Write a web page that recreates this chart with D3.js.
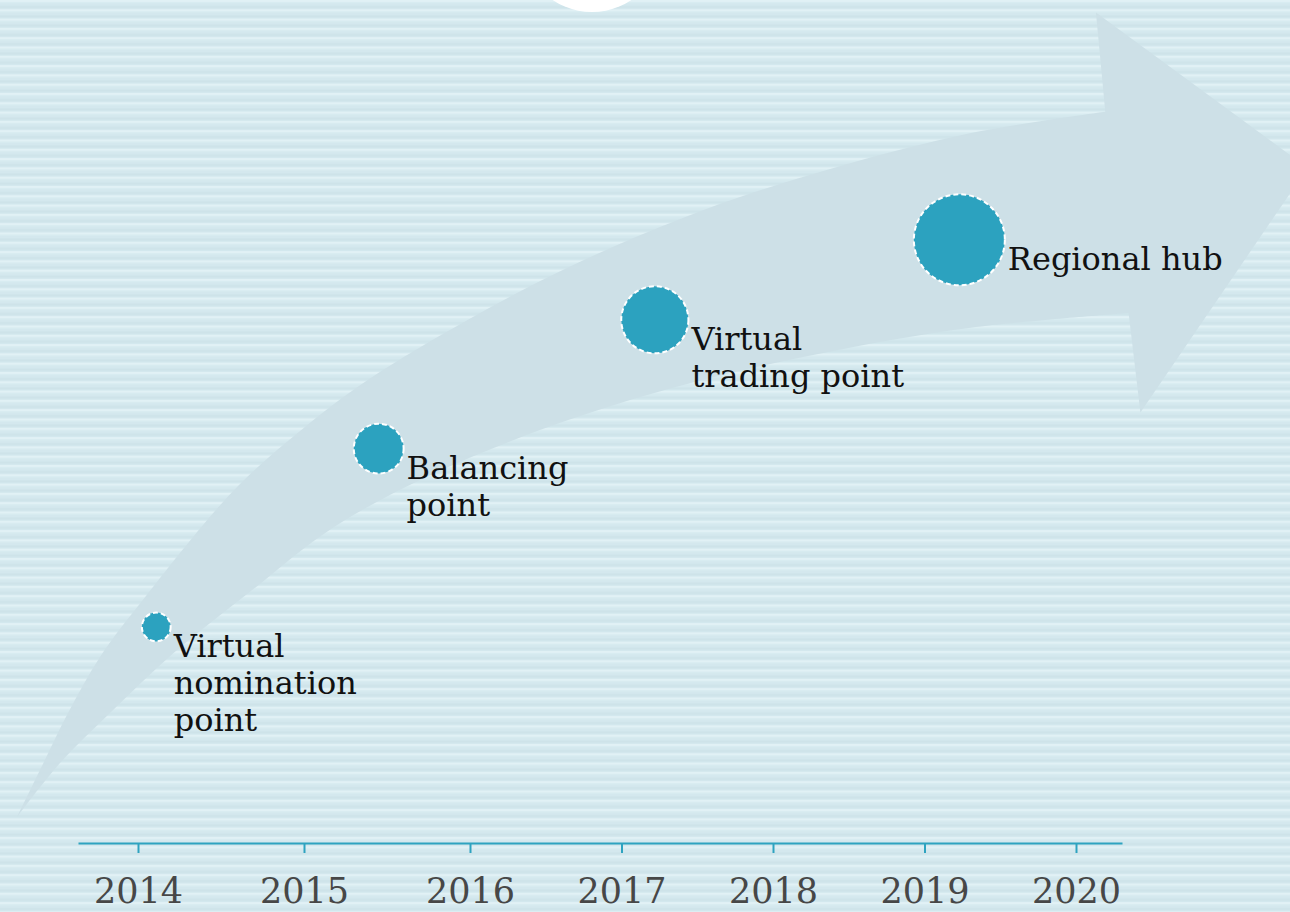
<!DOCTYPE html>
<html>
<head>
<meta charset="utf-8">
<script src="https://cdn.jsdelivr.net/npm/d3@7"></script>
<style>
  html, body { margin: 0; padding: 0; background: #d4e8ee; }
  svg { display: block; }
  .stage-label { font-family: "DejaVu Serif", Georgia, serif; font-size: 32px; fill: #111; }
  .axis text { font-family: "DejaVu Serif", Georgia, serif; font-size: 35px; fill: #474747; }
  .axis path, .axis line { stroke: #2ea3c0; stroke-width: 2; }
</style>
</head>
<body>
<div id="chart"></div>
<script>
// Hub development timeline (bubbles on a curved arrow)

const years = [2014, 2015, 2016, 2017, 2018, 2019, 2020];

const stageNames = ['Virtual nomination point', 'Balancing point', 'Virtual trading point', 'Regional hub'];
const stageLines = [['Virtual', 'nomination', 'point'], ['Balancing', 'point'], ['Virtual', 'trading point'], ['Regional hub']];
const stageYear = [2014.11, 2015.45, 2017.22, 2019.23];
const stageLevel = [2.7, 4.93, 6.54, 7.54];
const stageSize = [0.9, 2.7, 4.9, 9];

// Arrow outline in (year, level) units: upper edge tail -> head, head, lower edge head -> tail
const arrowUpper = [
    [2013.274, 0.325], [2013.442, 1.04], [2013.58, 1.625], [2013.772, 2.325], [2014.03, 3.04],
    [2014.578, 4.41], [2014.982, 5.16], [2015.386, 5.79], [2015.988, 6.54], [2016.653, 7.2],
    [2017.538, 7.91], [2018.422, 8.45], [2019.307, 8.875], [2020.191, 9.14]
];
const arrowHead = [[2020.191, 9.14], [2020.13, 10.38], [2021.51, 8.44], [2020.42, 5.38], [2020.343, 6.625]];
const arrowLower = [
    [2020.343, 6.625], [2019.307, 6.44], [2018.422, 6.16], [2017.538, 5.79], [2016.653, 5.29],
    [2015.789, 4.625], [2015.181, 3.95], [2014.675, 3.14], [2014.223, 2.39], [2013.832, 1.625],
    [2013.532, 1.0], [2013.274, 0.325]
];

const width = 1290;
const height = 912;

const stages = stageNames.map((name, i) => ({
    name,
    lines: stageLines[i],
    year: stageYear[i],
    level: stageLevel[i],
    size: stageSize[i]
}));

// Years are not evenly spaced in the original, so use a piecewise scale
const x = d3.scaleLinear()
    .domain([2013.64, 2014, 2016, 2020, 2020.3])
    .range([78, 138, 470, 1076, 1122]);

const y = d3.scaleLinear()
    .domain([0, 10])
    .range([843, 43]);

const r = d3.scaleSqrt()
    .domain([0, 9])
    .range([0, 45.5]);

const svg = d3.select('#chart').append('svg')
    .attr('width', width)
    .attr('height', height);

// Striped background
const defs = svg.append('defs');
const stripes = defs.append('pattern')
    .attr('id', 'stripes')
    .attr('patternUnits', 'userSpaceOnUse')
    .attr('width', 20)
    .attr('height', 9.3);
stripes.append('rect').attr('width', 20).attr('height', 9.3).attr('fill', '#d4e8ee');
stripes.append('rect').attr('y', 0).attr('width', 20).attr('height', 2).attr('fill', '#e1f1f5');
stripes.append('rect').attr('y', 2).attr('width', 20).attr('height', 1.2).attr('fill', '#daedf2');
stripes.append('rect').attr('y', 6).attr('width', 20).attr('height', 2).attr('fill', '#cee3e9');

svg.append('rect')
    .attr('width', width)
    .attr('height', height)
    .attr('fill', 'url(#stripes)');

// White disc peeking in at the top
svg.append('circle')
    .attr('cx', 592)
    .attr('cy', -59)
    .attr('r', 71)
    .attr('fill', '#ffffff');

// Curved arrow
const edge = d3.line()
    .x(d => x(d[0]))
    .y(d => y(d[1]))
    .curve(d3.curveCatmullRom.alpha(0.5));
const straight = d3.line()
    .x(d => x(d[0]))
    .y(d => y(d[1]));

const arrowPath = edge(arrowUpper)
    + straight(arrowHead).replace(/^M/, 'L')
    + edge(arrowLower).replace(/^M/, 'L')
    + 'Z';

svg.append('path')
    .attr('d', arrowPath)
    .attr('fill', '#cde0e7');

// Axis
const axis = d3.axisBottom(x)
    .tickValues(years)
    .tickFormat(d3.format('d'))
    .tickSize(10)
    .tickSizeOuter(0)
    .tickPadding(25);

svg.append('g')
    .attr('class', 'axis')
    .attr('transform', `translate(0,${y(0)})`)
    .call(axis);

// Stage bubbles
const nodes = svg.append('g')
    .selectAll('g.stage')
    .data(stages)
    .enter()
    .append('g')
    .attr('class', 'stage');

nodes.append('circle')
    .attr('cx', d => x(d.year))
    .attr('cy', d => y(d.level))
    .attr('r', d => r(d.size))
    .attr('fill', '#2ca2bf')
    .attr('stroke', '#ffffff')
    .attr('stroke-width', 2)
    .attr('stroke-dasharray', '5,3');

const labels = nodes.append('text')
    .attr('class', 'stage-label')
    .attr('x', d => x(d.year) + r(d.size) + 3)
    .attr('y', d => y(d.level) + 30);

labels.selectAll('tspan')
    .data(d => d.lines.map(line => ({ line, x: x(d.year) + r(d.size) + 3 })))
    .enter()
    .append('tspan')
    .attr('x', t => t.x)
    .attr('dy', (t, i) => i === 0 ? 0 : 37)
    .text(t => t.line);
</script>
</body>
</html>
